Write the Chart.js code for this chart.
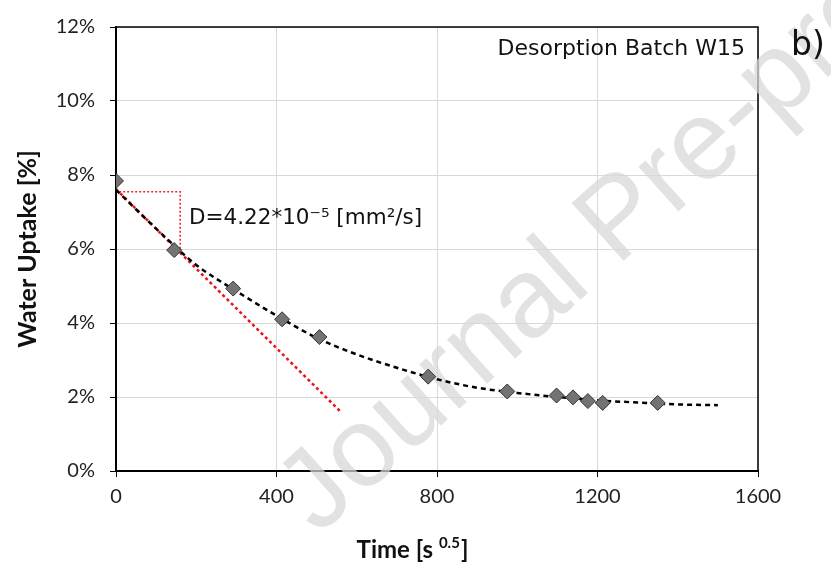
<!DOCTYPE html>
<html>
<head>
<meta charset="utf-8">
<script src="https://cdn.jsdelivr.net/npm/chart.js@4.4.0/dist/chart.umd.min.js"></script>
<style>
html,body{margin:0;padding:0;background:#fff}
</style>
</head>
<body>
<canvas id="chartDesorption" width="831" height="567"></canvas>
<script>
// measured points (time in s^0.5, uptake in %)
const timeValues   = [0, 145, 292, 414, 507, 778, 975, 1098, 1139, 1176, 1213, 1350];
const uptakeValues = [7.84, 5.97, 4.93, 4.10, 3.62, 2.55, 2.15, 2.04, 1.99, 1.89, 1.84, 1.84];

// dashed fit curve
const fitTime   = [0, 100, 200, 300, 400, 500, 600, 700, 800, 900, 1000, 1100, 1200, 1300, 1400, 1500];
const fitUptake = [7.6, 6.55, 5.57, 4.86, 4.2, 3.6, 3.15, 2.79, 2.48, 2.25, 2.11, 2.0, 1.91, 1.85, 1.8, 1.78];

// initial slope (red) and its triangle
const slopeTime     = [0, 560];
const slopeUptake   = [7.62, 1.6];
const triangleTime  = [8, 160, 160];
const triangleUptake = [7.55, 7.55, 5.9];

const xTickValues = [0, 400, 800, 1200, 1600];
const yTickValues = [0, 2, 4, 6, 8, 10, 12];

function toPoints(xs, ys){
    return xs.map((x, i) => ({x: x, y: ys[i]}));
}

const frameAndMarks = {
    id: 'frameAndMarks',
    beforeDatasetsDraw(chart){
        const ctx = chart.ctx;
        const a = chart.chartArea;
        ctx.save();
        ctx.strokeStyle = '#000';
        ctx.lineWidth = 1.5;
        ctx.beginPath();
        ctx.moveTo(a.left, a.top);
        ctx.lineTo(a.right, a.top);
        ctx.lineTo(a.right, a.bottom);
        ctx.stroke();

        // watermark
        ctx.translate(318, 536);
        ctx.rotate(-42 * Math.PI / 180);
        ctx.fillStyle = 'rgba(215,215,215,0.72)';
        ctx.font = '113px "Liberation Sans", Arial, sans-serif';
        ctx.textBaseline = 'alphabetic';
        ctx.fillText('Journal Pre-proof', 0, 0);
        ctx.restore();
    },
    afterDraw(chart){
        const ctx = chart.ctx;
        ctx.save();
        ctx.fillStyle = '#111';
        ctx.textBaseline = 'alphabetic';

        ctx.font = '22px "DejaVu Sans", sans-serif';
        ctx.textAlign = 'right';
        ctx.fillText('Desorption Batch W15', 745, 55);

        ctx.font = '33px "DejaVu Sans", sans-serif';
        ctx.textAlign = 'left';
        ctx.fillText('b)', 791, 55);

        ctx.font = '21.5px "DejaVu Sans", sans-serif';
        ctx.fillText('D=4.22*10\u207B\u2075 [mm\u00B2/s]', 189, 224);

        // x title with superscript
        const mainFont = 'bold 24px Lato, sans-serif';
        const supFont = 'bold 15px Lato, sans-serif';
        ctx.font = mainFont;
        const p1 = 'Time [s ';
        const w1 = ctx.measureText(p1).width;
        ctx.font = supFont;
        const w2 = ctx.measureText('0.5').width;
        ctx.font = mainFont;
        const w3 = ctx.measureText(']').width;
        let x = 412 - (w1 + w2 + w3) / 2;
        const y = 558;
        ctx.fillText(p1, x, y);
        x += w1;
        ctx.font = supFont;
        ctx.fillText('0.5', x, y - 10);
        x += w2 + 1;
        ctx.font = mainFont;
        ctx.fillText(']', x, y);
        ctx.restore();
    }
};

const ctx = document.getElementById('chartDesorption').getContext('2d');

new Chart(ctx, {
    type: 'scatter',
    data: {
        datasets: [
            {
                label: 'Fit',
                type: 'line',
                data: toPoints(fitTime, fitUptake),
                borderColor: '#000',
                borderWidth: 2.5,
                borderDash: [5, 4],
                pointRadius: 0,
                cubicInterpolationMode: 'monotone',
                fill: false,
                order: 2
            },
            {
                label: 'Slope',
                type: 'line',
                data: toPoints(slopeTime, slopeUptake),
                borderColor: '#ee1111',
                borderWidth: 2.5,
                borderDash: [3, 3],
                pointRadius: 0,
                fill: false,
                order: 3
            },
            {
                label: 'Triangle',
                type: 'line',
                data: toPoints(triangleTime, triangleUptake),
                borderColor: '#ee2222',
                borderWidth: 1.5,
                borderDash: [2, 2],
                pointRadius: 0,
                tension: 0,
                fill: false,
                order: 4
            },
            {
                label: 'Measured',
                data: toPoints(timeValues, uptakeValues),
                pointStyle: 'rectRot',
                pointRadius: 7.5,
                pointBackgroundColor: '#737373',
                pointBorderColor: '#333',
                pointBorderWidth: 1,
                order: 1
            }
        ]
    },
    options: {
        responsive: false,
        devicePixelRatio: 1,
        animation: false,
        layout: { padding: { top: 18, right: 73, left: 0, bottom: 0 } },
        plugins: {
            legend: { display: false },
            tooltip: { enabled: false }
        },
        scales: {
            x: {
                type: 'linear',
                min: xTickValues[0],
                max: xTickValues[xTickValues.length - 1],
                afterBuildTicks: s => { s.ticks = xTickValues.map(v => ({value: v})); },
                afterFit: s => { s.height = 96; },
                ticks: {
                    color: '#222',
                    font: { family: 'Lato', size: 20 },
                    padding: 8,
                    maxRotation: 0,
                    callback: v => String(v)
                },
                grid: { color: '#d9d9d9', tickColor: '#000', tickLength: 6, lineWidth: 1 },
                border: { color: '#000', width: 2 }
            },
            y: {
                min: yTickValues[0],
                max: yTickValues[yTickValues.length - 1],
                afterBuildTicks: s => { s.ticks = yTickValues.map(v => ({value: v})); },
                afterFit: s => { s.width = 116; },
                ticks: {
                    color: '#222',
                    font: { family: 'Lato', size: 20 },
                    padding: 15,
                    callback: v => v + '%'
                },
                grid: { color: '#d9d9d9', tickColor: '#000', tickLength: 6, lineWidth: 1 },
                border: { color: '#000', width: 2 },
                title: {
                    display: true,
                    text: 'Water Uptake [%]',
                    color: '#111',
                    font: { family: 'Lato', size: 25, weight: 'bold' },
                    padding: { top: 13, bottom: 0 }
                }
            }
        }
    },
    plugins: [frameAndMarks]
});
</script>
</body>
</html>
